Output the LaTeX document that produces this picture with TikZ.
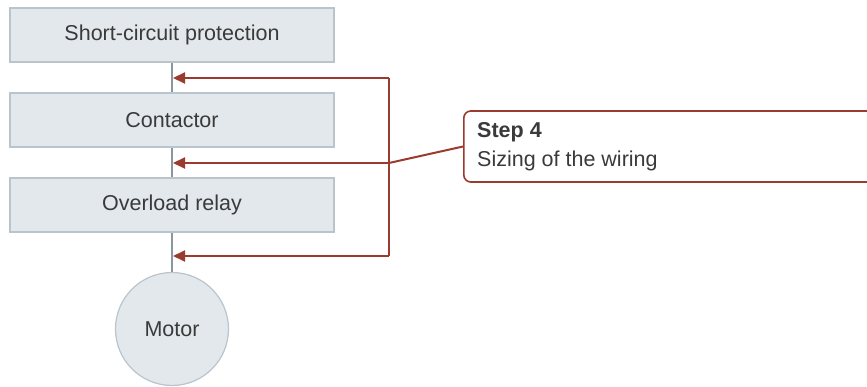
\documentclass[tikz,border=0pt]{standalone}
\usepackage{fontspec}
\setmainfont{Liberation Sans}
\usetikzlibrary{arrows.meta}
\definecolor{boxfill}{HTML}{E3E8EC}
\definecolor{boxline}{HTML}{B9C4CC}
\definecolor{wire}{HTML}{8C969E}
\definecolor{redline}{HTML}{9A3B30}
\definecolor{txt}{HTML}{3A3A3A}
\tikzset{
  unitbox/.style={draw=boxline, fill=boxfill, line width=1.2pt, minimum width=324pt, minimum height=54pt, inner sep=0pt, text=txt, font=\fontsize{21.5}{25}\selectfont},
  motorbox/.style={circle, draw=boxline, fill=boxfill, line width=1.2pt, minimum size=113pt, inner sep=0pt, text=txt, font=\fontsize{21.5}{25}\selectfont},
  stepbox/.style={draw=redline, fill=white, line width=1.6pt, rounded corners=7pt, minimum width=420pt, minimum height=71pt, inner sep=0pt},
  feed/.style={draw=redline, line width=2pt, -{Triangle[length=12pt,width=11pt]}},
  redwire/.style={draw=redline, line width=2pt},
  greywire/.style={draw=wire, line width=2pt}
}
\begin{document}
\begin{tikzpicture}[x=1pt,y=-1pt]
\useasboundingbox (0,0) rectangle (867,387);
\node[unitbox] (scp) at (172,35) {Short-circuit protection};
\node[unitbox] (con) at (172,120) {Contactor};
\node[unitbox] (ovl) at (172,205) {Overload relay};
\node[motorbox] (mot) at (172,329) {Motor};
\draw[greywire] (scp.south) -- (con.north);
\draw[greywire] (con.south) -- (ovl.north);
\draw[greywire] (ovl.south) -- (mot.north);
\coordinate (a1) at (173,78);
\coordinate (a2) at (173,163);
\coordinate (a3) at (173,256);
\coordinate (r1) at (389,78);
\coordinate (r2) at (389,163);
\coordinate (r3) at (389,256);
\node[stepbox, anchor=west] (step) at (463,146.5) {};
\node[anchor=north west, align=left, inner sep=0pt, text=txt, font=\fontsize{21.5}{29}\selectfont] (steptxt) at (477,122) {\textbf{Step 4}\\Sizing of the wiring};
\draw[redwire] (r1) -- (r3);
\draw[feed] (r1) -- (a1);
\draw[feed] (r2) -- (a2);
\draw[feed] (r3) -- (a3);
\draw[redwire] (r2) -- (step.west);
\end{tikzpicture}
\end{document}
